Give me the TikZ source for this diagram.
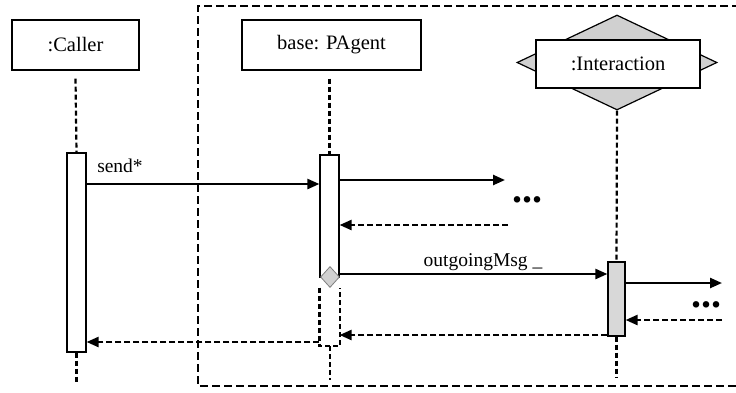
\documentclass[tikz,border=0pt]{standalone}
\usepackage{fontspec}
\setmainfont{Liberation Serif}
\usetikzlibrary{arrows.meta,shapes.geometric}
\definecolor{diagray}{RGB}{208,208,208}
\definecolor{actgray}{RGB}{216,216,216}

\begin{document}
\begin{tikzpicture}[x=1pt,y=-1pt,
    obj/.style={draw,line width=1.2pt,fill=white,inner sep=0pt,font=\fontsize{20.5}{24}\selectfont},
    act/.style={draw,line width=1.2pt,fill=white,minimum width=19pt,inner sep=0pt},
    life/.style={line width=2.2pt,dash pattern=on 5pt off 3pt},
    call/.style={line width=2.4pt,-{Triangle[length=12pt,width=10pt]}},
    reply/.style={line width=2.4pt,dash pattern=on 6pt off 3pt,-{Triangle[length=12pt,width=10pt]}},
    lbl/.style={font=\fontsize{19.5}{22}\selectfont},
    more/.style={font=\fontsize{40}{40}\bfseries,inner sep=0pt}]
\useasboundingbox (0,0) rectangle (736,392);
\fill[white] (0,0) rectangle (736,392);

% frame round base and interaction
\draw[line width=2.6pt,dash pattern=on 8pt off 4pt] (740,6) -- (198,6) -- (198,386) -- (740,386);

% objects
\node[obj,minimum width=127pt,minimum height=50pt] (caller) at (75.5,45) {:Caller};
\node[obj,minimum width=179pt,minimum height=50pt] (agent) at (331.5,45) {base: PAgent};
\node[diamond,draw,line width=1.2pt,fill=diagray,minimum width=200pt,minimum height=95pt,inner sep=0pt] (interdia) at (617,62.5) {};
\node[obj,minimum width=164pt,minimum height=48pt] (inter) at (618,64) {:Interaction};

% activations
\node[act,minimum height=199pt] (cact) at (76.5,252.5) {};
\node[act,minimum height=122pt] (aact) at (329.5,216) {};
\node[act,fill=actgray,minimum width=17pt,minimum height=74pt] (iact) at (616.5,299) {};
\node[diamond,draw=gray,line width=0.8pt,fill=diagray,minimum width=19pt,minimum height=21pt,inner sep=0pt] (hist) at (330,277) {};
\coordinate (aend) at (330,346);

% lifelines
\draw[life] ([yshift=-8pt]caller.south) -- (cact.north);
\draw[life] (cact.south) -- ++(0,31);
\draw[life] ([yshift=-8pt]aact.north |- agent.south) -- (aact.north);
\draw[life] ([yshift=-10pt]aact.south west) |- (aend) -| ([yshift=-10pt]aact.south east);
\draw[life] (aend) -- ++(0,34);
\draw[life] (interdia.south) -- (iact.north);
\draw[life] (iact.south) -- ++(0,41);

% messages
\coordinate (out1) at (505,180);
\coordinate (back1) at (508,225);
\coordinate (out2) at (722,283);
\coordinate (back2) at (722,320);
\draw[call] (cact.east |- 0,184) -- (aact.west |- 0,184);
\draw[call] (aact.east |- out1) -- (out1);
\draw[reply] (back1) -- (aact.east |- back1);
\draw[call] (aact.east |- 0,274) -- (iact.west |- 0,274);
\draw[call] (iact.east |- out2) -- (out2);
\draw[reply] (back2) -- (iact.east |- back2);
\draw[reply] (iact.west |- 0,335) -- (aact.east |- 0,335);
\draw[reply] (aact.west |- 0,342) -- (cact.east |- 0,342);

% labels
\node[lbl] (sendlbl) at (120,166) {send*};
\node[lbl] (msglbl) at (483,262) {outgoingMsg \_};
\node[more] (more1) at (527,200) {...};
\node[more] (more2) at (706,305) {...};
\end{tikzpicture}
\end{document}
